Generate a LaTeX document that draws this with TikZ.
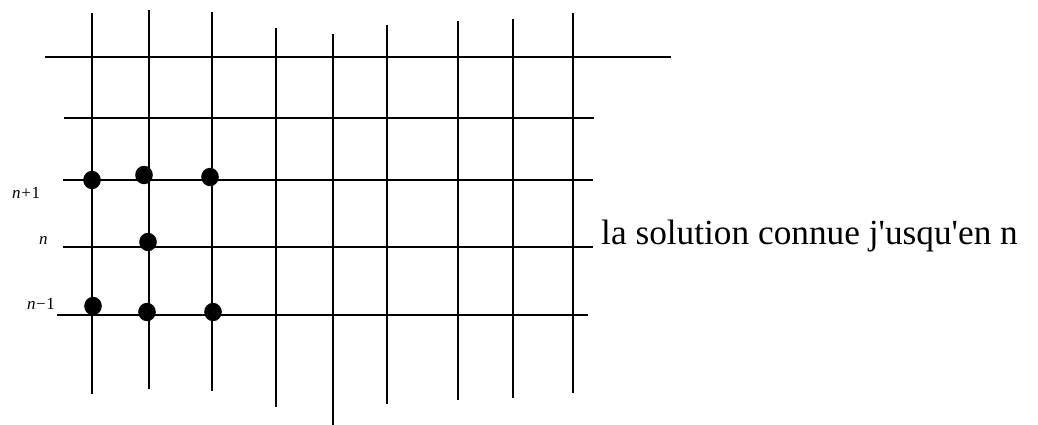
\documentclass[tikz,border=0pt]{standalone}
\usepackage{fontspec}
\setmainfont{Liberation Serif}
\tikzset{
  gridline/.style={
    line width=1.8pt,
    draw=black,
  },
  knowndot/.style={
    fill=black,
  },
  rowlbl/.style={
    font=\fontsize{17}{17}\selectfont,
    anchor=base west,
    inner sep=0pt,
  },
  notelbl/.style={
    font=\fontsize{35.3}{36}\selectfont,
    anchor=base west,
    inner sep=0pt,
  },
}
\begin{document}
\begin{tikzpicture}[
  x=1pt, y=-1pt,
]
  \useasboundingbox (0,0) rectangle (1038,425);

  % --- vertical grid lines (x / top / bottom) ---
  \foreach \x/\t/\b in {92/13/394, 149/10/389, 212/12/391, 276/28/407,
                         333/34/425, 387/25/404, 458/21/400, 513/19/398, 573/13/393}
    \draw[gridline] (\x,\t) -- (\x,\b);

  % --- horizontal grid lines (y / left / right) ---
  \foreach \y/\l/\r in {57/45/671, 118/64/594, 180/63/593, 247/63/593, 315/57/588}
    \draw[gridline] (\l,\y) -- (\r,\y);

  % --- known points of the stencil ---
  \foreach \px/\py in {92/180, 144/175, 210/177, 148/242, 93/306, 147/312, 213/312}
    \fill[knowndot] (\px,\py) ellipse [x radius=8.8, y radius=9.2];

  % --- time level labels ---
  \node[rowlbl] (np1) at (12,198) {\itshape n\upshape\kern0.7pt+\kern0.7pt1};
  \node[rowlbl] (nn)  at (39,244) {\itshape n};
  \node[rowlbl] (nm1) at (27,309) {\itshape n\upshape\kern0.5pt−\kern0.5pt1};

  % --- note ---
  \node[notelbl] (note) at (601,244) {la solution connue j\textquotesingle usqu\textquotesingle en n};
\end{tikzpicture}
\end{document}
